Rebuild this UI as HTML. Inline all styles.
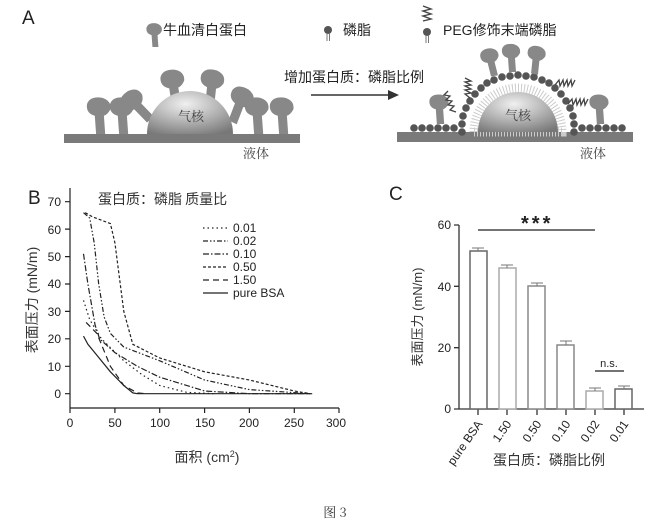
<!DOCTYPE html>
<html><head><meta charset="utf-8"><style>
body{margin:0;background:#fff;}
svg{display:block;font-family:"Liberation Sans","Noto Sans CJK SC",sans-serif;}
.cj{font-family:"Noto Sans CJK SC",sans-serif;}
.cs{font-family:"Noto Serif CJK SC","Noto Sans CJK SC",serif;}
</style></head><body>
<svg width="670" height="528" viewBox="0 0 670 528" xmlns="http://www.w3.org/2000/svg">
<defs>
<radialGradient id="dome" cx="0.45" cy="0.3" r="0.8"><stop offset="0" stop-color="#f0f0f0"/><stop offset="0.6" stop-color="#a8a8a8"/><stop offset="1" stop-color="#777"/></radialGradient>
<g id="prot"><path d="M-3,0 L-4,-14 Q-11,-16 -10,-23 Q-8,-29 1,-28 Q9,-26 8,-19 Q6,-15 3,-14 L4,0 Z" fill="#888"/></g>
</defs>
<!-- Panel A -->
<text x="22" y="24" font-size="19" fill="#222">A</text>
<g transform="translate(155,47) scale(0.85)"><use href="#prot"/></g>
<text x="163" y="35" font-size="14" class="cj" fill="#222">牛血清白蛋白</text>
<circle cx="328" cy="30" r="4" fill="#555"/><line x1="327" y1="33" x2="327" y2="41" stroke="#777"/><line x1="329.5" y1="33" x2="329.5" y2="41" stroke="#777"/>
<text x="343" y="35" font-size="14" class="cj" fill="#222">磷脂</text>
<path d="M423,6 l8,3 -8,2 8,3 -8,2 8,3 -8,2" fill="none" stroke="#444" stroke-width="1.4"/>
<circle cx="427" cy="32" r="4" fill="#555"/><line x1="426" y1="35" x2="426" y2="43" stroke="#777"/><line x1="428.5" y1="35" x2="428.5" y2="43" stroke="#777"/>
<text x="443" y="35" font-size="14" fill="#222">PEG<tspan class="cj">修饰末端磷脂</tspan></text>
<!-- left scene -->
<rect x="64" y="134" width="236" height="9" fill="#7a7a7a"/>
<g transform="translate(100,134) scale(1.3)"><use href="#prot"/></g>
<g transform="translate(123,134) scale(1.3)"><use href="#prot"/></g>
<g transform="translate(150,120) rotate(-40) scale(1.3)"><use href="#prot"/></g>
<g transform="translate(176,106) rotate(-5) scale(1.3)"><use href="#prot"/></g>
<g transform="translate(209,106) rotate(10) scale(1.3)"><use href="#prot"/></g>
<g transform="translate(232,122) rotate(25) scale(1.3)"><use href="#prot"/></g>
<g transform="translate(258,134) scale(1.3)"><use href="#prot"/></g>
<g transform="translate(283,134) scale(1.3)"><use href="#prot"/></g>
<path d="M147,134 A43,43 0 0 1 233,134 Z" fill="url(#dome)"/>
<text x="178" y="121" font-size="13" class="cs" fill="#444">气核</text>
<text x="243" y="158" font-size="13" class="cs" fill="#444">液体</text>
<text x="284" y="82" font-size="14" class="cj" fill="#222">增加蛋白质：磷脂比例</text>
<line x1="311" y1="95" x2="390" y2="95" stroke="#333" stroke-width="1.5"/><path d="M399,95 L388,90 L388,100 Z" fill="#333"/>
<!-- right scene -->
<rect x="397" y="132" width="236" height="10" fill="#7a7a7a"/>
<g fill="#555">
<circle cx="462" cy="132" r="3.8"/><circle cx="462" cy="124" r="3.8"/><circle cx="463" cy="116" r="3.8"/><circle cx="466" cy="108" r="3.8"/><circle cx="470" cy="101" r="3.8"/><circle cx="475" cy="94" r="3.8"/><circle cx="481" cy="88" r="3.8"/><circle cx="487" cy="83" r="3.8"/><circle cx="494" cy="80" r="3.8"/><circle cx="502" cy="77" r="3.8"/><circle cx="510" cy="76" r="3.8"/><circle cx="518" cy="75" r="3.8"/><circle cx="526" cy="76" r="3.8"/><circle cx="534" cy="77" r="3.8"/><circle cx="542" cy="80" r="3.8"/><circle cx="549" cy="83" r="3.8"/><circle cx="555" cy="88" r="3.8"/><circle cx="561" cy="94" r="3.8"/><circle cx="566" cy="101" r="3.8"/><circle cx="570" cy="108" r="3.8"/><circle cx="573" cy="116" r="3.8"/><circle cx="574" cy="124" r="3.8"/><circle cx="574" cy="132" r="3.8"/>
<circle cx="414" cy="128" r="3.8"/><circle cx="422" cy="128" r="3.8"/><circle cx="430" cy="128" r="3.8"/><circle cx="438" cy="128" r="3.8"/><circle cx="446" cy="128" r="3.8"/><circle cx="454" cy="128" r="3.8"/>
<circle cx="582" cy="128" r="3.8"/><circle cx="590" cy="128" r="3.8"/><circle cx="598" cy="128" r="3.8"/><circle cx="606" cy="128" r="3.8"/><circle cx="614" cy="128" r="3.8"/><circle cx="622" cy="128" r="3.8"/>
</g>
<path d="M474,132 A44,44 0 0 1 562,132 Z" fill="#fff" stroke="#ccc" stroke-width="9" stroke-dasharray="1 2"/>
<path d="M478,132 A40,40 0 0 1 558,132 Z" fill="url(#dome)"/>
<text x="505" y="120" font-size="13" class="cs" fill="#444">气核</text>
<text x="580" y="158" font-size="13" class="cs" fill="#444">液体</text>
<g transform="translate(440,124) scale(1.05)"><use href="#prot"/></g>
<g transform="translate(600,124) scale(1.05)"><use href="#prot"/></g>
<g transform="translate(494,76) scale(1) rotate(-10)"><use href="#prot"/></g>
<g transform="translate(512,72) scale(1)"><use href="#prot"/></g>
<g transform="translate(534,74) scale(1) rotate(10)"><use href="#prot"/></g>
<g fill="none" stroke="#444" stroke-width="1.3">
<path d="M470,98 l-5,-4 6,-1 -6,-3 6,-1 -6,-3 6,-1 -6,-3 6,-1 -6,-3"/>
<path d="M456,112 l-6,-2 4,-4 -6,-1 4,-4 -6,-1 4,-4 -6,-1 4,-4"/>
<path d="M555,85 l4,-5 1,6 3,-6 1,6 3,-6 1,6 3,-6 1,6 3,-6"/>
<path d="M568,104 l4,-5 1,6 3,-6 1,6 3,-6 1,6 3,-6 1,6 3,-6"/>
</g>
<!-- Panel B -->
<text x="28" y="204" font-size="19" fill="#222">B</text>
<text x="98" y="204" font-size="14" class="cj" fill="#333">蛋白质：磷脂 质量比</text>
<g stroke="#222" stroke-width="1.2" fill="none">
<line x1="70" y1="188" x2="70" y2="408"/><line x1="70" y1="408" x2="339" y2="408"/>
<path d="M65,393.7h5M65,366.3h5M65,338.8h5M65,311.4h5M65,284h5M65,256.6h5M65,229.1h5M65,201.7h5"/>
<path d="M70,408v5M114.9,408v5M159.7,408v5M204.6,408v5M249.4,408v5M294.3,408v5M339,408v5"/>
</g>
<g font-size="12" fill="#222" text-anchor="end">
<text x="61" y="398">0</text><text x="61" y="371">10</text><text x="61" y="343">20</text><text x="61" y="316">30</text><text x="61" y="288">40</text><text x="61" y="261">50</text><text x="61" y="234">60</text><text x="61" y="206">70</text>
</g>
<g font-size="12" fill="#222" text-anchor="middle">
<text x="70" y="427">0</text><text x="115" y="427">50</text><text x="160" y="427">100</text><text x="205" y="427">150</text><text x="249" y="427">200</text><text x="294" y="427">250</text><text x="336" y="427">300</text>
</g>
<text x="207" y="462" font-size="14" text-anchor="middle" fill="#333"><tspan class="cj">面积</tspan> (cm<tspan font-size="9" dy="-5">2</tspan><tspan dy="5">)</tspan></text>
<text transform="translate(37,300) rotate(-90)" font-size="14" text-anchor="middle" fill="#333"><tspan class="cj">表面压力</tspan> (mN/m)</text>
<g fill="none" stroke="#222" stroke-width="1.2">
<path d="M83.5,336.1L87.9,344.3L96.9,355.3L110.4,371.8L123.8,385.5L132.8,392.9L137.3,393.7L312.2,393.7"/>
<path stroke-dasharray="6 4" d="M86.1,322.4L96.9,333.4L110.4,366.3L123.8,385.5L137.3,392.9L146.2,393.7"/>
<path stroke-dasharray="3 2" d="M85.2,212.7L92.4,216.8L110.4,223.6L114.9,242.8L123.8,311.4L132.8,344.3L159.7,358L204.6,371.8L249.4,380L294.3,391L310.4,393.7"/>
<path stroke-dasharray="5 2 1.5 2 1.5 2" d="M83.5,212.7L89.7,218.1L94.2,242.8L98.7,284L104.1,316.9L110.4,333.4L123.8,347.1L159.7,360.8L204.6,380L249.4,389.6L310.4,393.7"/>
<path stroke-dasharray="6 2 1.5 2" d="M83.5,253.8L87.9,284L95.1,325.1L99.6,338.8L114.9,352.6L137.3,366.3L159.7,377.2L204.6,391L249.4,393.7L310.4,393.7"/>
<path stroke-dasharray="1.5 3" d="M83.5,300.4L89.7,319.6L101.4,338.8L123.8,360.8L141.8,374.5L159.7,385.5L186.6,392.3L213.5,393.7"/>
<line x1="203" y1="228" x2="228" y2="228" stroke-dasharray="1.5 3"/>
<line x1="203" y1="241" x2="228" y2="241" stroke-dasharray="5 2 1.5 2 1.5 2"/>
<line x1="203" y1="254" x2="228" y2="254" stroke-dasharray="6 2 1.5 2"/>
<line x1="203" y1="267" x2="228" y2="267" stroke-dasharray="3 2"/>
<line x1="203" y1="280" x2="228" y2="280" stroke-dasharray="6 4"/>
<line x1="203" y1="293" x2="228" y2="293"/>
</g>
<g font-size="12" fill="#222">
<text x="233" y="232">0.01</text><text x="233" y="245">0.02</text><text x="233" y="258">0.10</text><text x="233" y="271">0.50</text><text x="233" y="284">1.50</text><text x="233" y="297">pure BSA</text>
</g>
<!-- Panel C -->
<text x="389" y="200" font-size="19" fill="#222">C</text>
<g stroke="#333" stroke-width="1.3" fill="none">
<line x1="459" y1="225" x2="459" y2="409"/><line x1="459" y1="409" x2="644" y2="409"/>
<path d="M454,409h5M454,347.7h5M454,286.3h5M454,225h5"/>
<path d="M478,409v6M507,409v6M537,409v6M566,409v6M595,409v6M624,409v6"/>
</g>
<g font-size="12" fill="#222" text-anchor="end">
<text x="451" y="413">0</text><text x="451" y="352">20</text><text x="451" y="291">40</text><text x="451" y="229">60</text>
</g>
<g fill="#fff" stroke-width="1.5">
<rect x="470" y="251" width="17" height="158" stroke="#666"/>
<rect x="499" y="268" width="17" height="141" stroke="#aaa"/>
<rect x="528" y="286" width="17" height="123" stroke="#888"/>
<rect x="557" y="345" width="17" height="64" stroke="#888"/>
<rect x="586" y="391" width="17" height="18" stroke="#aaa"/>
<rect x="615" y="389" width="17" height="20" stroke="#666"/>
</g>
<g stroke="#777" stroke-width="1">
<path d="M478,251v-3M472,248h12M507,268v-3M501,265h12M537,286v-3M531,283h12M566,345v-4M560,341h12M595,391v-3M589,388h12M624,389v-3M618,386h12"/>
</g>
<line x1="478" y1="230" x2="595" y2="230" stroke="#222" stroke-width="1.3"/>
<text x="521" y="230" font-size="20" fill="#222" font-weight="bold" letter-spacing="3">***</text>
<line x1="595" y1="371" x2="624" y2="371" stroke="#222" stroke-width="1.3"/>
<text x="609" y="367" font-size="11" fill="#222" text-anchor="middle">n.s.</text>
<g font-size="12" fill="#222" text-anchor="end">
<text transform="translate(483,424) rotate(-55)">pure BSA</text>
<text transform="translate(512,424) rotate(-55)">1.50</text>
<text transform="translate(542,424) rotate(-55)">0.50</text>
<text transform="translate(571,424) rotate(-55)">0.10</text>
<text transform="translate(600,424) rotate(-55)">0.02</text>
<text transform="translate(629,424) rotate(-55)">0.01</text>
</g>
<text x="549" y="465" font-size="14" class="cj" fill="#333" text-anchor="middle">蛋白质：磷脂比例</text>
<text transform="translate(422,317) rotate(-90)" font-size="13" text-anchor="middle" fill="#333"><tspan class="cj">表面压力</tspan> (mN/m)</text>
<text x="335" y="517" font-size="13" class="cs" fill="#333" text-anchor="middle">图 3</text>
</svg>
</body></html>
